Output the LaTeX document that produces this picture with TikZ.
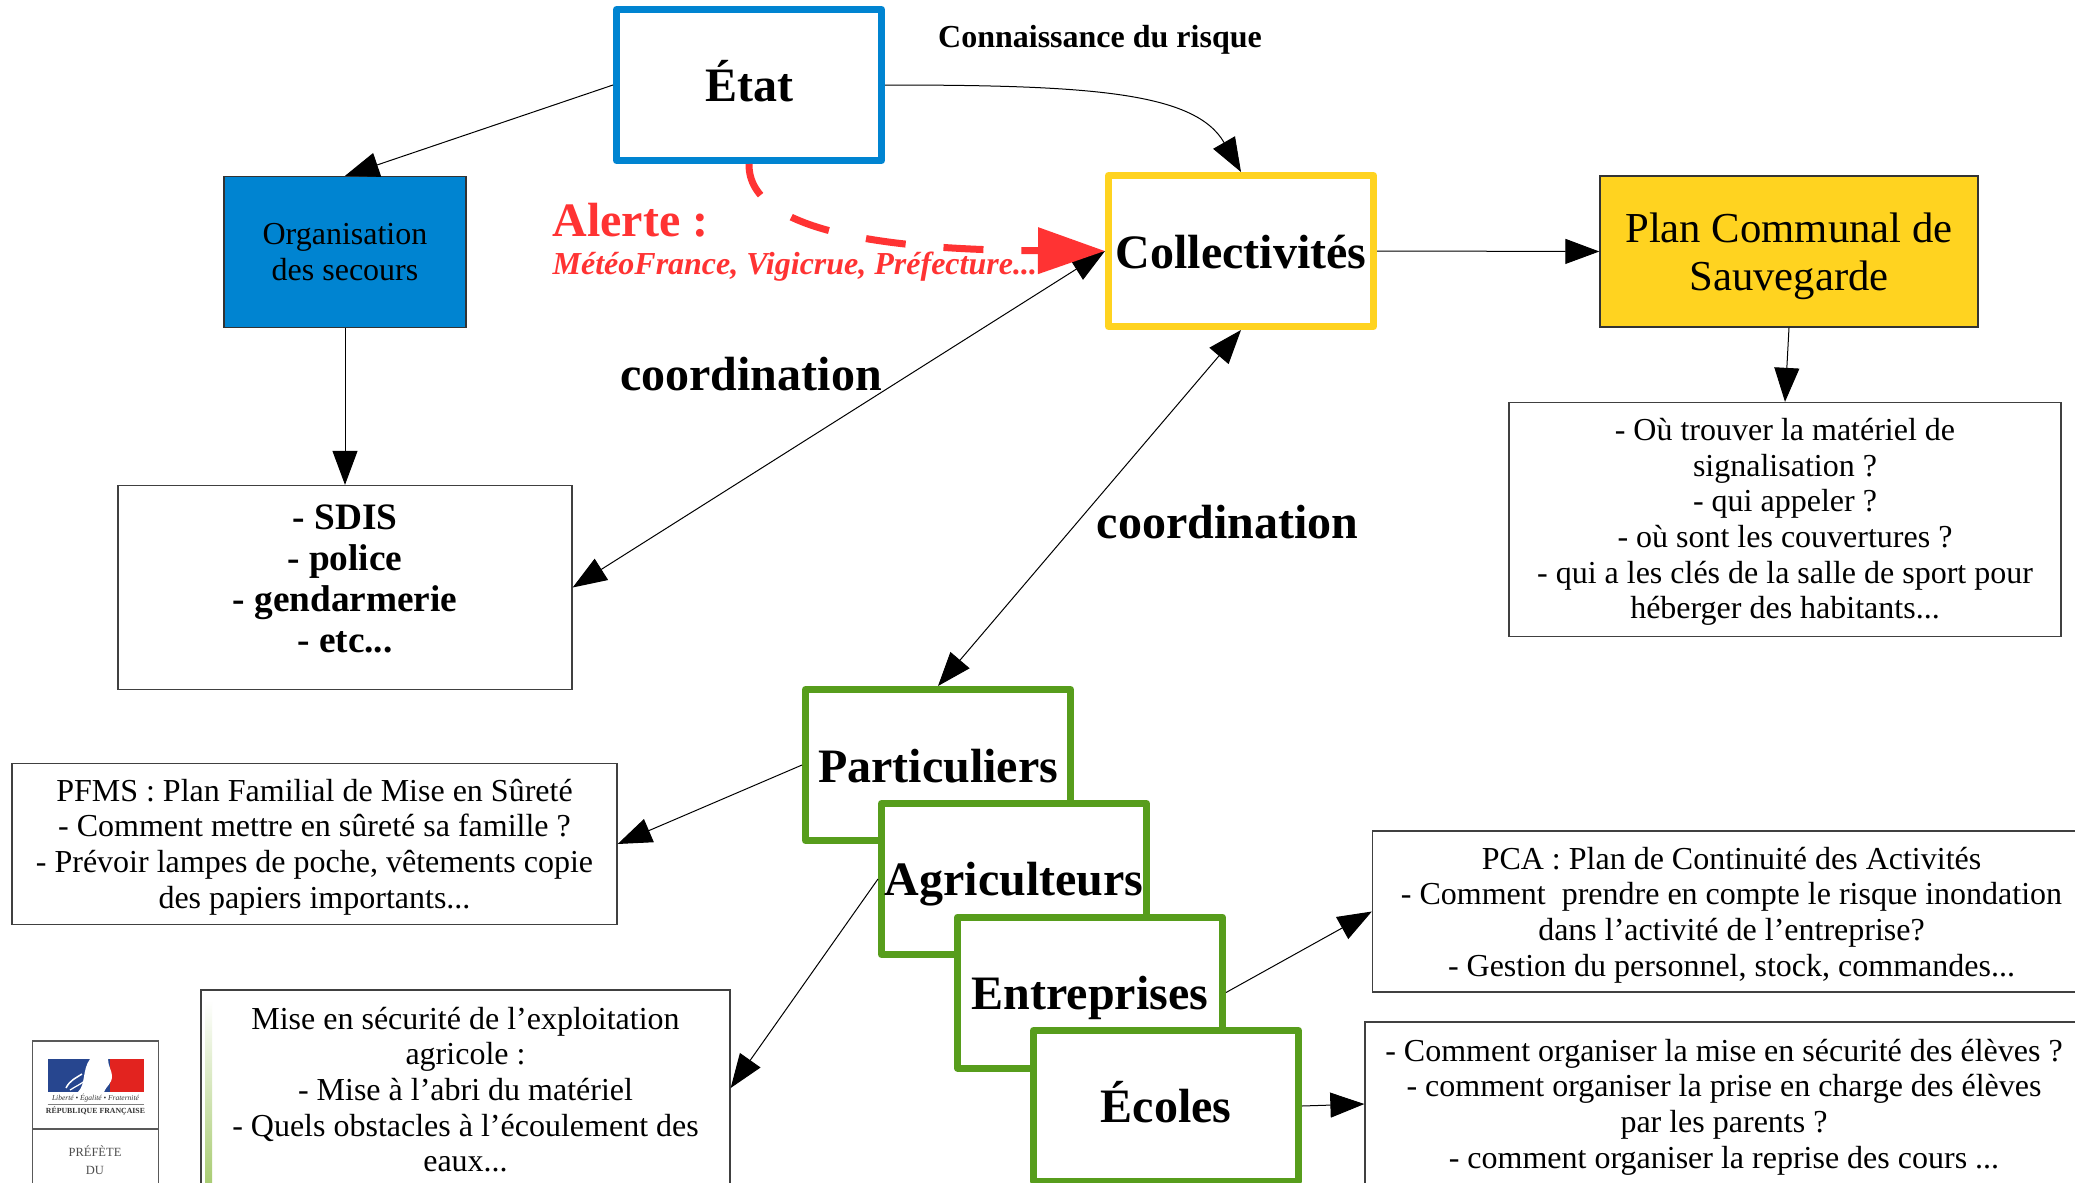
\documentclass[tikz,border=0pt]{standalone}
\usepackage{fontspec}
\setmainfont{Liberation Serif}
\usetikzlibrary{arrows.meta}
\definecolor{lblue}{HTML}{0084D1}
\definecolor{lyellow}{HTML}{FFD320}
\definecolor{lgreen}{HTML}{579D1C}
\definecolor{lred}{HTML}{FF3333}
\definecolor{fadegreen}{HTML}{A9CC73}
\definecolor{flagblue}{HTML}{27468F}
\definecolor{flagred}{HTML}{E2231F}
\tikzset{
 x=1pt,y=-1pt,
 every node/.style={inner sep=0pt,align=center,line width=1.3pt},
 txtbig/.style={font=\fontsize{32}{35.6}\selectfont},
 head/.style={font=\bfseries\fontsize{48}{50}\selectfont},
 framebox/.style={draw=black!75,fill=white,line width=1.3pt},
 thickbox/.style={draw,fill=white,line width=7pt,line join=round,minimum width=265pt,minimum height=151pt},
 greenbox/.style={thickbox,draw=lgreen},
 conn/.style={line width=1pt,-{Triangle[length=34pt,width=25pt]}},
 conn2/.style={line width=1pt,{Triangle[length=34pt,width=25pt]}-{Triangle[length=34pt,width=25pt]}},
 lab/.style={font=\bfseries\fontsize{48}{50}\selectfont},
}
\begin{document}
\begin{tikzpicture}
\path[use as bounding box,clip] (0,0) rectangle (2075,1183);
\fill[white] (0,0) rectangle (2075,1183);

% top row
\node[thickbox,draw=lblue] (etat) at (749,85) {};
\node[font=\bfseries\fontsize{48}{52}\selectfont] (etatt) at (749,81) {État};
\node[draw=black!80,fill=lblue,minimum width=242pt,minimum height=151pt,txtbig] (org) at (345,252) {Organisation\\des secours};
\node[thickbox,draw=lyellow] (coll) at (1241,251) {};
\node[head] (collt) at (1241,252) {Collectivités};
\node[draw=black!80,fill=lyellow,minimum width=378pt,minimum height=151pt] (pcs) at (1789,251.5) {};
\node[font=\fontsize{42.7}{48}\selectfont] (pcst) at (1789,256) {Plan Communal de\\Sauvegarde};

% text boxes
\node[framebox,minimum width=454pt,minimum height=204pt] (sdis) at (345,587.5) {};
\node[font=\bfseries\fontsize{37.3}{41}\selectfont] (sdist) at (345,579) {- SDIS\\- police\\- gendarmerie\\- etc...};
\node[framebox,minimum width=552pt,minimum height=234pt] (ou) at (1785,519.5) {};
\node[txtbig] (out) at (1785,522) {- Où trouver la matériel de\\signalisation ?\\- qui appeler ?\\- où sont les couvertures ?\\- qui a les clés de la salle de sport pour\\héberger des habitants...};
\node[framebox,minimum width=605pt,minimum height=161pt] (pfms) at (314.5,844) {};
\node[txtbig] (pfmst) at (314.5,847) {PFMS : Plan Familial de Mise en Sûreté\\- Comment mettre en sûreté sa famille ?\\- Prévoir lampes de poche, vêtements copie\\des papiers importants...};
\node[framebox,minimum width=718pt,minimum height=161pt] (pca) at (1731.5,911.5) {};
\node[txtbig] (pcat) at (1731.5,915) {PCA : Plan de Continuité des Activités\\- Comment\ \ prendre en compte le risque inondation\\dans l’activité de l’entreprise?\\- Gestion du personnel, stock, commandes...};
\node[framebox,minimum width=718pt,minimum height=164pt] (com) at (1724,1104) {};
\node[txtbig] (comt) at (1724,1107) {- Comment organiser la mise en sécurité des élèves ?\\- comment organiser la prise en charge des élèves\\par les parents ?\\- comment organiser la reprise des cours ...};
\node[framebox,minimum width=529pt,minimum height=196pt] (mise) at (465.5,1088) {};
\shade[top color=white,bottom color=fadegreen] (205,1000) rectangle (212,1183);
\node[txtbig] (misetxt) at (465.5,1089.5) {Mise en sécurité de l’exploitation\\agricole :\\- Mise à l’abri du matériel\\- Quels obstacles à l’écoulement des\\eaux...};

% stacked green boxes
\node[greenbox] (part) at (938,765) {};
\node[head] (partt) at (938,766.5) {Particuliers};
\node[greenbox] (agri) at (1014,879) {};
\node[head] (agrit) at (1014,884) {Agriculteurs};
\node[greenbox] (entr) at (1090,992.5) {};
\node[head] (entrt) at (1090,998) {Entreprises};
\node[greenbox] (ecol) at (1166,1106) {};
\node[head] (ecolt) at (1166,1102) {Écoles};

% logo
\node[draw=black!65,fill=white,line width=1.3pt,minimum width=126pt,minimum height=180pt] (logo) at (95.5,1131) {};
\coordinate (logoL) at (32,1129);
\coordinate (logoR) at (159,1129);
\draw[black!65,line width=1.3pt] (logoL) -- (logoR);
\fill[flagblue] (47.5,1059) rectangle (144,1092);
\fill[flagred] (110,1059) rectangle (144,1092);
\fill[white] (90,1059) -- (108,1059) .. controls (108,1066) and (112,1071) .. (112,1076) .. controls (112,1084) and (106,1086) .. (104,1092) -- (78,1092) .. controls (86,1084) and (82,1070) .. (90,1059) -- cycle;
\draw[white,line width=1.5pt] (66,1088) .. controls (70,1080) and (76,1078) .. (82,1074);
\draw[white,line width=1.2pt] (70,1090) .. controls (76,1086) and (82,1084) .. (88,1078);
\node[font=\itshape\fontsize{7.5}{8}\selectfont,black!80] (devise) at (95.5,1098.5) {Liberté • Égalité • Fraternité};
\node[font=\bfseries\fontsize{7.8}{8}\selectfont,black!80] (rf) at (95.5,1111) {RÉPUBLIQUE FRANÇAISE};
\coordinate (devL) at (47.5,1104); \coordinate (devR) at (144,1104);
\draw[black!50,line width=.6pt] (devL) -- (devR);
\node[font=\fontsize{12.5}{13}\selectfont,black!70] (pref) at (95,1151) {PRÉFÈTE};
\node[font=\fontsize{12.5}{13}\selectfont,black!70] (du) at (95,1170) {DU};

% connectors
\draw[conn] (etat.west) -- (org.north);
\draw[conn] (org.south) -- (sdis.north);
\draw[conn] (etat.east) .. controls (1090,85) and (1195,92) .. (coll.north);
\draw[conn] (coll.east) -- (pcs.west);
\draw[conn] (pcs.south) -- (ou.north);
\draw[conn2] (coll.west) -- (sdis.east);
\draw[conn2] (coll.south) -- (part.north);
\draw[conn] (part.west) -- (pfms.east);
\draw[conn] (agri.west) -- (mise.east);
\draw[conn] (entr.east) -- (pca.west);
\draw[conn] (ecol.east) -- (com.west);

% alert
\draw[lred,line width=7pt,dash pattern=on 40pt off 38pt,dash phase=6pt,-{Triangle[length=67pt,width=45pt]}] (etat.south) .. controls (748,235) and (900,250) .. (coll.west);

% free labels
\node[font=\bfseries\fontsize{32}{35}\selectfont] (conn) at (1100,40) {Connaissance du risque};
\node[lab,text=lred,anchor=west] (alerte) at (552,220) {Alerte :};
\node[text=lred,anchor=west,font=\bfseries\itshape\fontsize{32}{36}\selectfont] (meteo) at (552,267) {MétéoFrance, Vigicrue, Préfecture...};
\node[lab] (c1) at (751,374.5) {coordination};
\node[lab] (c2) at (1227.5,522) {coordination};
\end{tikzpicture}
\end{document}
